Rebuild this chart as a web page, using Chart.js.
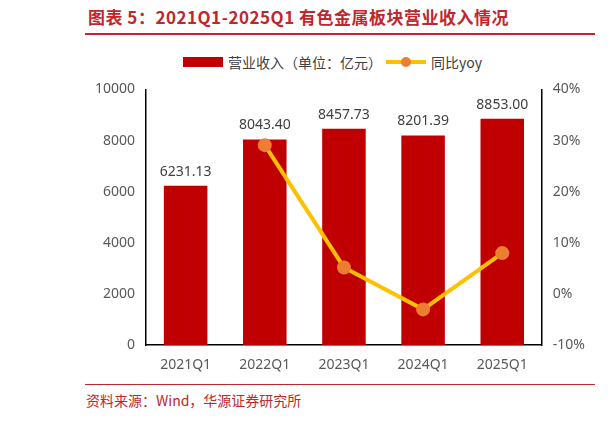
<!DOCTYPE html>
<html><head><meta charset="utf-8">
<script src="https://cdn.jsdelivr.net/npm/chart.js@4"></script>
<style>
body{margin:0;width:614px;height:423px;background:#fff;position:relative;font-family:"Noto Sans CJK SC",sans-serif;overflow:hidden}
#title{position:absolute;left:88px;top:4px;color:#c0272d;font-weight:bold;font-size:17px;letter-spacing:0.5px}
.line{position:absolute;left:85px;width:510px;height:2px;background:#c0272d}
#src{position:absolute;left:86px;color:#c0272d;font-size:14px;font-family:"Noto Sans CJK SC";}
#legend{position:absolute;top:52px;left:183px;font-size:14px;color:#404040;display:flex;align-items:center}
#wrap{position:absolute;left:92px;top:78px;width:496px;height:298px}
</style></head><body>
<div id="title">图表 5：2021Q1-2025Q1 有色金属板块营业收入情况</div>
<div class="line" style="top:33px"></div>
<div id="legend"><span style="display:inline-block;width:40px;height:10px;background:#c00000;margin-right:5px"></span>营业收入（单位：亿元）<span style="display:inline-block;width:40px;height:4px;background:#ffc000;position:relative;margin:0 5px 0 4px"><span style="position:absolute;left:15px;top:-3px;width:10px;height:10px;border-radius:5px;background:#ed7d31"></span></span>同比yoy</div>
<div id="wrap"><canvas id="c"></canvas></div>
<div class="line" style="top:384px;height:1px"></div>
<div id="src" style="top:390px">资料来源：Wind，华源证券研究所</div>
<script>
const categories = ['2021Q1','2022Q1','2023Q1','2024Q1','2025Q1'];
const revenue = [6231.13, 8043.40, 8457.73, 8201.39, 8853.00];
const yoy = [null, 29.1, 5.2, -3.0, 8.0];

const labelPlugin = {
  id: 'labels',
  afterDatasetsDraw(chart) {
    const ctx = chart.ctx;
    const meta = chart.getDatasetMeta(1);
    ctx.save();
    ctx.font = '14px "Noto Sans", sans-serif';
    ctx.fillStyle = '#404040';
    ctx.textAlign = 'center';
    ctx.textBaseline = 'bottom';
    meta.data.forEach((bar, i) => {
      ctx.fillText(revenue[i].toFixed(2), bar.x, bar.y - 7);
    });
    ctx.restore();
  }
};

new Chart(document.getElementById('c'), {
  data: {
    labels: categories,
    datasets: [
      { type: 'line', data: yoy, yAxisID: 'y2', borderColor: '#ffc000', borderWidth: 4,
        pointBackgroundColor: '#ed7d31', pointBorderColor: '#ed7d31', pointRadius: 5, order: 0 },
      { type: 'bar', data: revenue, yAxisID: 'y', backgroundColor: '#c00000',
        categoryPercentage: 0.55, barPercentage: 1, order: 1 }
    ]
  },
  options: {
    responsive: true, maintainAspectRatio: false, animation: false,
    layout: { padding: { top: 5, right: 0 } },
    plugins: { legend: { display: false }, tooltip: { enabled: false } },
    scales: {
      x: { grid: { display: false }, border: { color: '#000', width: 1.5 },
           ticks: { color: '#595959', font: { size: 14, family: 'Noto Sans' } } },
      y: { min: 0, max: 10000,
           ticks: { stepSize: 2000, color: '#595959', callback: v => String(v), font: { size: 14, family: 'Noto Sans' } },
           grid: { display: false }, border: { color: '#000', width: 1.5 } },
      y2: { position: 'right', min: -10, max: 40,
            ticks: { stepSize: 10, color: '#595959', callback: v => v + '%', font: { size: 14, family: 'Noto Sans' } },
            grid: { display: false }, border: { color: '#000', width: 1.5 } }
    }
  },
  plugins: [labelPlugin]
});
</script>
</body></html>
